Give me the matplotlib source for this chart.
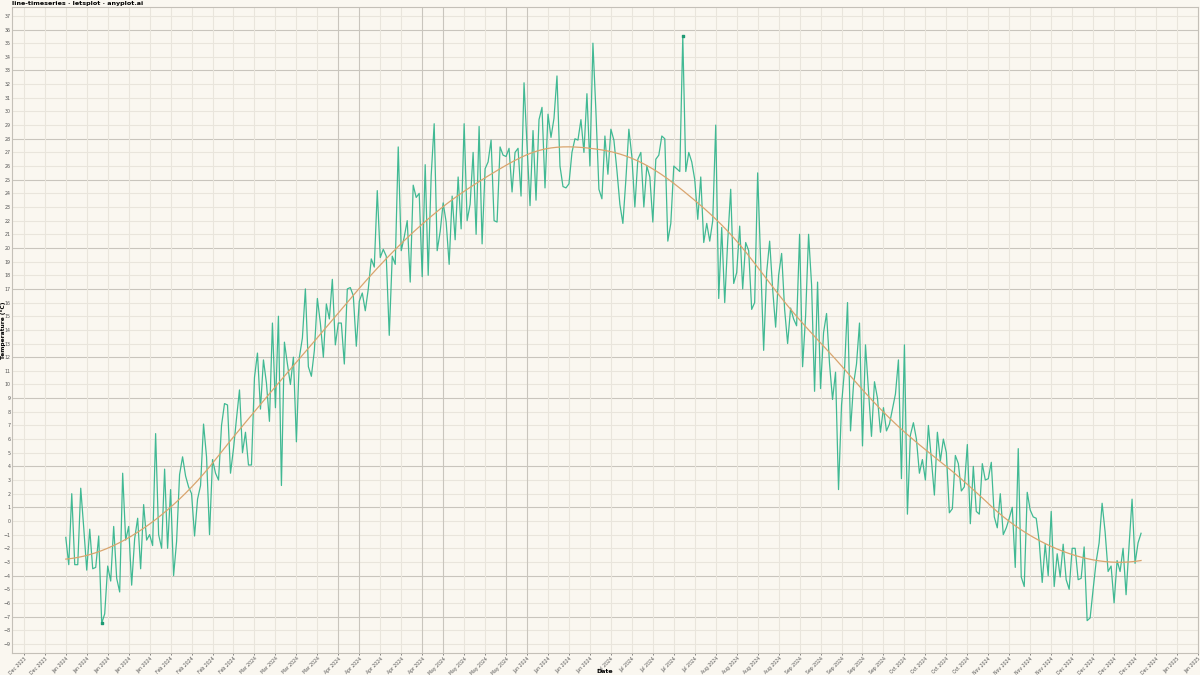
import numpy as np
import pandas as pd
import matplotlib
matplotlib.use("Agg")
import matplotlib.pyplot as plt
import matplotlib.dates as mdates

# daily temperature readings for 2024 (rough first read)
temps = [
    -1.2, -3.2, 2.0, -3.2, -3.2, 2.4, -0.5, -3.6, -0.6, -3.5, -3.4, -1.1, -7.5, -6.8, -3.3, -4.4,
    -0.4, -4.2, -5.2, 3.5, -1.4, -0.4, -4.7, -1.3, 0.2, -3.5, 1.2, -1.4, -1.0, -1.8, 6.4, -1.0,
    -2.0, 3.8, -2.0, 2.3, -4.0, -1.5, 3.4, 4.7, 3.3, 2.5, 2.0, -1.1, 1.6, 2.6, 7.1, 4.7, -1.0,
    4.5, 3.5, 3.0, 7.0, 8.6, 8.5, 3.5, 5.3, 7.5, 9.6, 5.0, 6.5, 4.1, 4.1, 10.5, 12.3, 8.2, 11.8,
    10.1, 7.3, 14.5, 8.3, 15.0, 2.6, 13.1, 11.5, 10.0, 12.0, 5.8, 12.0, 13.4, 17.0, 11.3, 10.6,
    12.5, 16.3, 14.5, 12.0, 15.9, 14.8, 17.7, 12.9, 14.5, 14.5, 11.5, 17.0, 17.1, 16.5, 12.8,
    16.1, 16.7, 15.4, 17.0, 19.2, 18.6, 24.2, 19.3, 19.9, 19.4, 13.6, 19.4, 18.8, 27.4, 19.8,
    20.8, 22.0, 17.5, 24.6, 23.7, 24.0, 17.9, 26.1, 18.0, 25.3, 29.1, 19.8, 21.2, 23.3, 21.9,
    18.8, 23.8, 20.6, 25.2, 21.4, 29.1, 22.0, 23.2, 27.0, 21.0, 28.9, 20.3, 25.8, 26.3, 27.9,
    22.0, 21.9, 27.4, 26.8, 26.7, 27.3, 24.1, 27.0, 27.3, 23.8, 32.1, 27.5, 23.1, 28.6, 23.5,
    29.4, 30.3, 24.4, 29.8, 28.1, 29.5, 32.6, 26.0, 24.5, 24.4, 24.7, 27.0, 28.0, 27.9, 29.4,
    27.0, 31.3, 26.0, 35.0, 30.0, 24.3, 23.6, 28.2, 25.4, 28.7, 27.9, 25.7, 23.2, 21.8, 25.0,
    28.7, 26.7, 23.0, 26.5, 27.0, 23.0, 26.0, 25.2, 21.9, 26.5, 26.8, 28.2, 28.0, 20.5, 21.8,
    26.0, 25.8, 25.6, 35.5, 25.6, 27.0, 26.3, 25.0, 22.1, 25.2, 20.4, 21.8, 20.5, 22.0, 29.0,
    16.3, 21.5, 16.0, 20.5, 24.3, 17.4, 18.2, 21.6, 17.0, 20.4, 19.8, 15.5, 16.0, 25.5, 19.0,
    12.5, 18.2, 20.5, 17.0, 14.2, 18.0, 19.6, 15.5, 13.0, 15.6, 14.8, 14.3, 21.0, 11.3, 15.0,
    21.0, 17.3, 9.5, 17.5, 9.7, 13.8, 15.2, 11.5, 8.9, 10.9, 2.3, 8.5, 11.1, 16.0, 6.6, 10.0,
    11.5, 14.5, 5.5, 12.9, 9.5, 6.2, 10.2, 9.0, 6.5, 8.3, 6.6, 7.1, 8.2, 9.3, 11.8, 3.1, 12.9,
    0.5, 6.3, 7.2, 6.0, 3.5, 4.5, 3.0, 7.0, 4.5, 1.9, 6.5, 4.4, 6.0, 5.0, 0.6, 0.9, 4.8, 4.2,
    2.2, 2.5, 5.6, -0.2, 4.0, 0.7, 0.5, 4.2, 3.0, 3.1, 4.3, 0.3, -0.5, 2.0, -1.0, -0.5, 0.2,
    1.0, -3.4, 5.3, -4.1, -4.8, 2.1, 0.8, 0.3, 0.2, -1.5, -4.5, -1.7, -4.0, 0.7, -4.8, -2.4,
    -4.1, -1.7, -4.3, -5.0, -2.0, -2.0, -4.3, -4.2, -1.9, -7.3, -7.1, -5.0, -3.0, -1.6, 1.3,
    -0.8, -3.7, -3.3, -6.0, -2.9, -3.7, -2.0, -5.4, -1.8, 1.6, -3.1, -1.6, -0.9,
]
dates = pd.date_range("2024-01-01", periods=len(temps), freq="D")
week_ticks = pd.date_range("2023-12-18", "2025-01-13", freq="W-MON")

BG = "#faf7f0"
LINE = "#2db38a"
SMOOTH = "#d9a56e"
GRID_LIGHT = "#e9e5dc"
GRID_DARK = "#c9c5bd"
dark_h = [36, 33, 28, 25, 20, 17, 12, 9, 4, 1, -4, -7]
dark_v = [13, 14, 17, 18, 21, 22]


def loess(x, y, span=0.3):
    # local quadratic fit with tricube weights
    n = len(x)
    k = int(np.ceil(span * n))
    fit = np.zeros(n)
    for i in range(n):
        d = np.abs(x - x[i])
        idx = np.argsort(d)[:k]
        h = d[idx].max()
        w = (1 - (d[idx] / h) ** 3) ** 3
        dx = x[idx] - x[i]
        A = np.vstack([np.ones(k), dx, dx ** 2]).T
        W = np.sqrt(w)
        coef = np.linalg.lstsq(A * W[:, None], y[idx] * W, rcond=None)[0]
        fit[i] = coef[0]
    return fit


t = np.array(temps)
xnum = np.arange(len(t), dtype=float)
smooth = loess(xnum, t)

fig = plt.figure(figsize=(12, 6.75), dpi=100, facecolor=BG)
ax = fig.add_axes([0.01, 0.033, 0.9883, 0.9566])
ax.set_facecolor(BG)

# grid
for v in range(-9, 38):
    ax.axhline(v, color=GRID_DARK if v in dark_h else GRID_LIGHT, lw=0.8, zorder=0)
for i, d in enumerate(week_ticks):
    ax.axvline(d, color=GRID_DARK if i - 2 in dark_v else GRID_LIGHT, lw=0.8, zorder=0)

ax.plot(dates, t, color=LINE, lw=0.9, alpha=0.9, zorder=3)
ax.plot(dates, smooth, color=SMOOTH, lw=0.9, zorder=4)
imax, imin = t.argmax(), t.argmin()
ax.scatter([dates[imax], dates[imin]], [t[imax], t[imin]], s=3, color="#1f9a74", zorder=5, marker="s")

span = dates[-1] - dates[0]
ax.set_xlim(dates[0] - span * 0.05, dates[-1] + span * 0.05)
rng = t.max() - t.min()
ax.set_ylim(t.min() - 0.05 * rng, t.max() + 0.05 * rng)

ax.set_yticks(range(-9, 38))
ax.set_xticks(week_ticks)
ax.xaxis.set_major_formatter(mdates.DateFormatter("%b %Y"))
ax.tick_params(axis="y", labelsize=3.4, colors="#555555", length=0, pad=0.8)
ax.tick_params(axis="x", labelsize=3.3, colors="#555555", length=1.5, width=0.5, pad=1)
for lab in ax.get_xticklabels():
    lab.set_rotation(45)
    lab.set_ha("right")
    lab.set_rotation_mode("anchor")

for s in ax.spines.values():
    s.set_color("#c4c0b8")
    s.set_linewidth(0.8)

fig.text(0.504, 0.002, "Date", fontsize=4.5, fontweight="bold", ha="center", va="bottom")
ax.set_ylabel("Temperature (°C)", fontsize=4.2, fontweight="bold")
ax.yaxis.set_label_coords(-0.0048, 0.5)
fig.text(0.01, 0.999, "line-timeseries · letsplot · anyplot.ai", fontsize=4.6,
         fontweight="bold", va="top", ha="left")

fig.savefig("out.png", dpi=100, facecolor=BG)
